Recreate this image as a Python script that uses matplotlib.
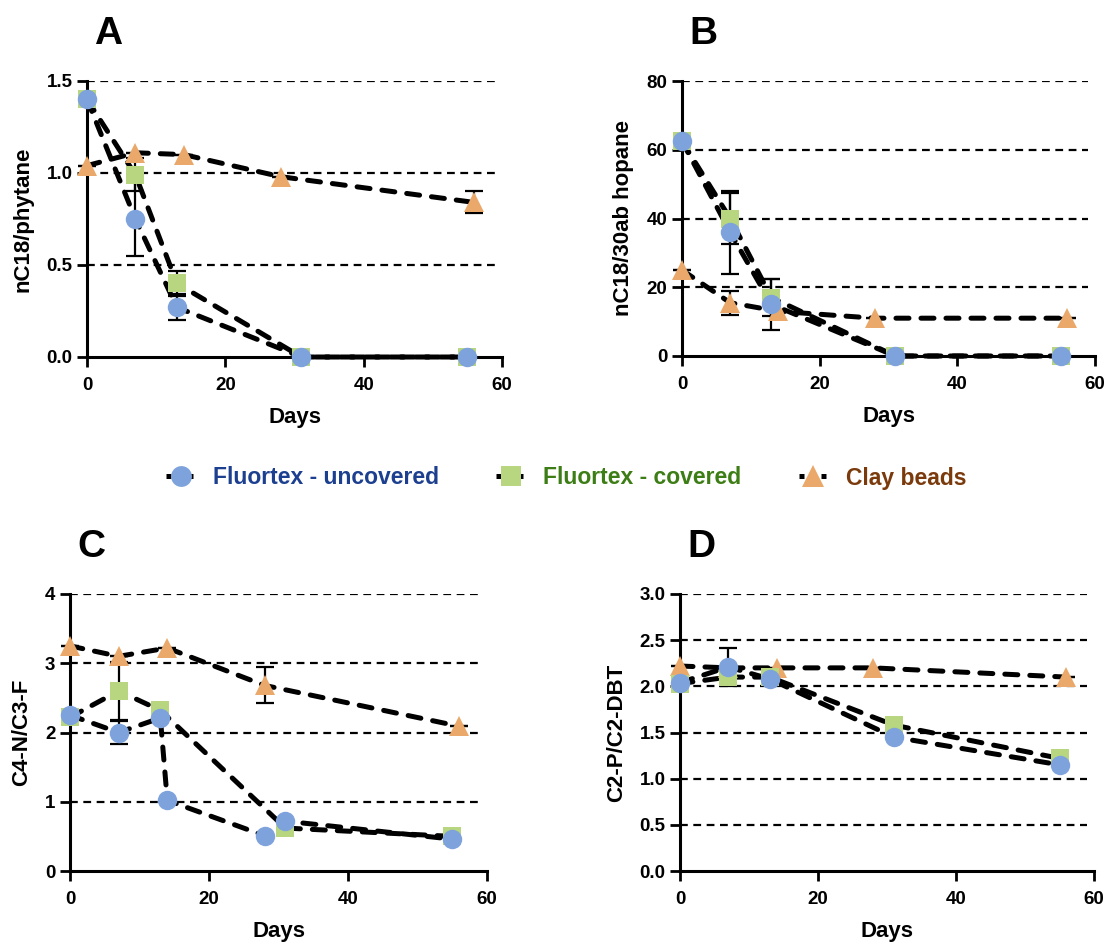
import matplotlib
matplotlib.use("Agg")
import matplotlib.pyplot as plt
from matplotlib.lines import Line2D

plt.rcParams['font.family'] = ['Liberation Sans', 'DejaVu Sans']
plt.rcParams['font.weight'] = 'bold'

# Colours of the three treatments
col_unc = '#7ea3dc'
col_cov = '#b7d67f'
col_clay = '#eaa96a'

# ---- Panel A: nC18/phytane
a_unc_x = [0, 7, 13, 31, 55]
a_unc_y = [1.40, 0.75, 0.27, 0.0, 0.0]
a_unc_e = [0, 0.20, 0.07, 0, 0]
a_cov_x = [0, 7, 13, 31, 55]
a_cov_y = [1.40, 0.99, 0.40, 0.0, 0.0]
a_cov_e = [0, 0.09, 0.07, 0, 0]
a_clay_x = [0, 7, 14, 28, 56]
a_clay_y = [1.04, 1.11, 1.10, 0.98, 0.84]
a_clay_e = [0, 0, 0, 0, 0.06]

# ---- Panel B: nC18/30ab hopane
b_unc_x = [0, 7, 13, 31, 55]
b_unc_y = [62.5, 36.0, 15.0, 0.0, 0.0]
b_unc_e = [0, 12.0, 7.5, 0, 0]
b_cov_x = [0, 7, 13, 31, 55]
b_cov_y = [62.5, 40.0, 17.0, 0.0, 0.0]
b_cov_e = [0, 7.5, 5.5, 0, 0]
b_clay_x = [0, 7, 14, 28, 56]
b_clay_y = [25.0, 15.5, 13.0, 11.0, 11.0]
b_clay_e = [0, 3.5, 0, 0, 0]

# ---- Panel C: C4-N/C3-F
c_unc_x = [0, 7, 13, 14, 28, 31, 55]
c_unc_y = [2.25, 2.00, 2.21, 1.02, 0.51, 0.72, 0.46]
c_unc_e = [0, 0.17, 0, 0, 0, 0, 0]
c_cov_x = [0, 7, 13, 31, 55]
c_cov_y = [2.22, 2.60, 2.32, 0.62, 0.50]
c_cov_e = [0, 0.42, 0, 0, 0]
c_clay_x = [0, 7, 14, 28, 56]
c_clay_y = [3.25, 3.10, 3.22, 2.68, 2.09]
c_clay_e = [0, 0, 0, 0.26, 0]

# ---- Panel D: C2-P/C2-DBT
d_unc_x = [0, 7, 13, 31, 55]
d_unc_y = [2.04, 2.21, 2.08, 1.45, 1.15]
d_unc_e = [0, 0.21, 0, 0, 0]
d_cov_x = [0, 7, 13, 31, 55]
d_cov_y = [2.03, 2.10, 2.10, 1.58, 1.22]
d_cov_e = [0, 0, 0, 0, 0]
d_clay_x = [0, 7, 14, 28, 56]
d_clay_y = [2.22, 2.20, 2.20, 2.20, 2.10]
d_clay_e = [0, 0, 0, 0, 0]

labels = ['Fluortex - uncovered', 'Fluortex - covered', 'Clay beads']
label_colors = ['#1c3f8f', '#3d7d16', '#7a3a0c']

panels = [
    ('A', 'nC18/phytane', [0, 0.5, 1.0, 1.5], ['0.0', '0.5', '1.0', '1.5'],
     [(a_clay_x, a_clay_y, a_clay_e), (a_cov_x, a_cov_y, a_cov_e), (a_unc_x, a_unc_y, a_unc_e)],
     [87, 81, 502, 357]),
    ('B', 'nC18/30ab hopane', [0, 20, 40, 60, 80], ['0', '20', '40', '60', '80'],
     [(b_clay_x, b_clay_y, b_clay_e), (b_cov_x, b_cov_y, b_cov_e), (b_unc_x, b_unc_y, b_unc_e)],
     [682, 81, 1095, 356]),
    ('C', 'C4-N/C3-F', [0, 1, 2, 3, 4], ['0', '1', '2', '3', '4'],
     [(c_clay_x, c_clay_y, c_clay_e), (c_cov_x, c_cov_y, c_cov_e), (c_unc_x, c_unc_y, c_unc_e)],
     [70, 594, 487, 871]),
    ('D', 'C2-P/C2-DBT', [0, 0.5, 1.0, 1.5, 2.0, 2.5, 3.0],
     ['0.0', '0.5', '1.0', '1.5', '2.0', '2.5', '3.0'],
     [(d_clay_x, d_clay_y, d_clay_e), (d_cov_x, d_cov_y, d_cov_e), (d_unc_x, d_unc_y, d_unc_e)],
     [680, 594, 1094, 871]),
]

styles = [('^', col_clay, 14.5), ('s', col_cov, 13), ('o', col_unc, 14)]
data_dash = (0, (2.6, 2.4))

W, H = 1108, 944
fig = plt.figure(figsize=(W / 100, H / 100), dpi=100)

for letter, ylab, yt, ytl, series, box in panels:
    x0, y0, x1, y1 = box
    ax = fig.add_axes([x0 / W, 1 - y1 / H, (x1 - x0) / W, (y1 - y0) / H])
    ax.set_xlim(0, 60)
    ax.set_ylim(yt[0], yt[-1])
    # dashed reference lines
    ax.hlines(yt[1:], 0, 59, colors='black', linestyles=(0, (3.5, 2.5)), linewidth=1.6, zorder=1)
    for (xs, ys, es), (mk, c, ms) in zip(series, styles):
        ax.plot(xs, ys, color='black', linestyle=data_dash, linewidth=3.6,
                dash_capstyle='round', zorder=2, clip_on=False)
        ax.errorbar(xs, ys, yerr=es, fmt='none', ecolor='black', elinewidth=1.6,
                    capsize=6.5, capthick=1.6, zorder=3, clip_on=False)
        ax.plot(xs, ys, linestyle='none', marker=mk, markersize=ms, color=c,
                markeredgewidth=0, zorder=4, clip_on=False)
    ax.set_xticks([0, 20, 40, 60])
    ax.set_yticks(yt)
    ax.set_yticklabels(ytl)
    for s in ['top', 'right']:
        ax.spines[s].set_visible(False)
    for s in ['left', 'bottom']:
        ax.spines[s].set_linewidth(2.2)
    ax.tick_params(width=2, length=7.5, labelsize=13.5)
    ax.tick_params(axis='x', pad=7)
    ax.tick_params(axis='y', pad=3)
    for t in ax.get_xticklabels() + ax.get_yticklabels():
        t.set_fontweight('bold')
    ax.set_xlabel('Days', fontsize=16, fontweight='bold', labelpad=9)
    ax.set_ylabel(ylab, fontsize=16, fontweight='bold', labelpad=9)
    fig.text((x0 + 7) / W, 1 - (y0 - 37) / H, letter, fontsize=28,
             fontweight='bold', va='baseline', ha='left')

# shared legend
handles = []
for (mk, c, ms) in styles[::-1]:
    handles.append(Line2D([], [], color='black', linestyle=(0, (1.0, 1.2)), linewidth=3.6,
                          marker=mk, markersize=ms + 1, markerfacecolor=c, markeredgewidth=0))
leg = fig.legend(handles, labels, loc='center', bbox_to_anchor=(566 / W, 1 - 478 / H),
                 ncol=3, frameon=False, handlelength=1.3, columnspacing=2.5,
                 handletextpad=0.75, prop={'weight': 'bold', 'size': 16.5})
for txt, c in zip(leg.get_texts(), label_colors):
    txt.set_color(c)

fig.savefig('out.png', dpi=100)
